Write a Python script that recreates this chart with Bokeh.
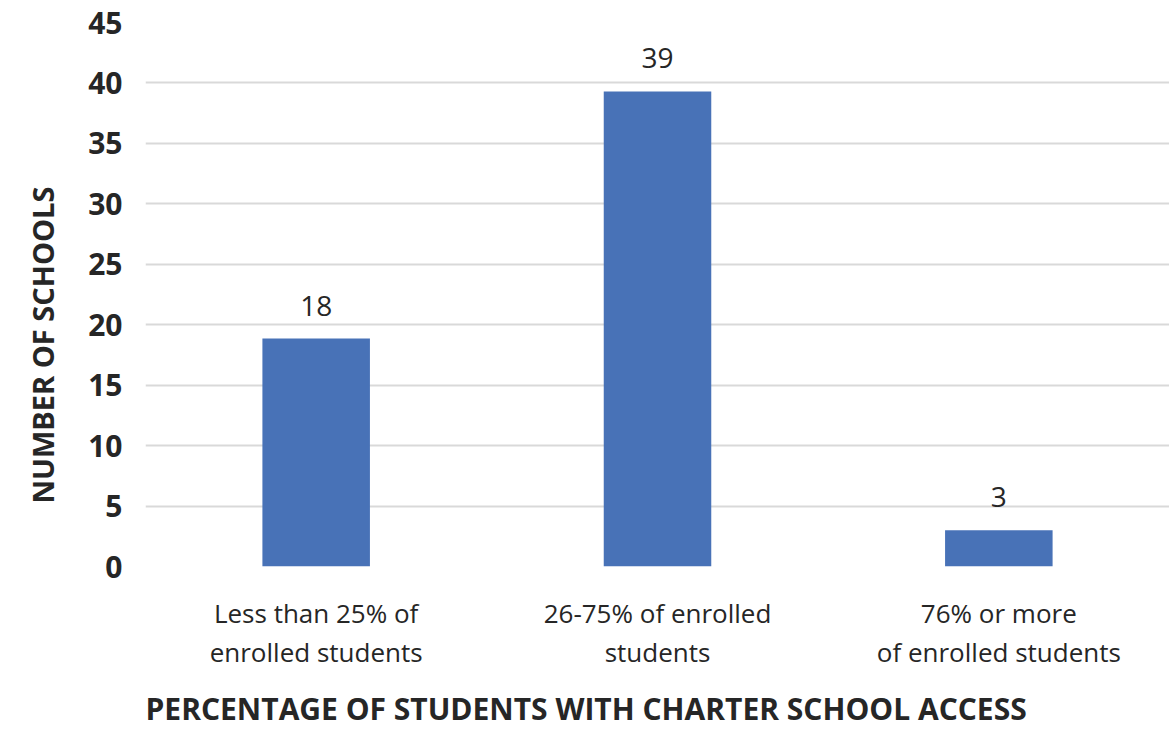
from bokeh.plotting import figure
from bokeh.models import ColumnDataSource, FactorRange, Title
from bokeh.core.properties import value
from bokeh.embed import file_html
from bokeh.resources import INLINE

categories = ["Less than 25% of\nenrolled students",
              "26-75% of enrolled\nstudents",
              "76% or more\nof enrolled students"]
bar_values = [18.85, 39.3, 3.0]
bar_labels = ["18", "39", "3"]
y_ticks = [0, 5, 10, 15, 20, 25, 30, 35, 40, 45]

FONT = "Open Sans"
TXT = "#262626"

src = ColumnDataSource(dict(cat=categories, val=bar_values, lab=bar_labels))

p = figure(width=1169, height=742, output_backend="svg", toolbar_location=None,
           x_range=FactorRange(*categories, range_padding=0.0),
           y_range=(0, 45),
           min_border_left=145, min_border_right=0, min_border_top=22, min_border_bottom=176)
p.outline_line_color = None
p.background_fill_color = "white"
p.border_fill_color = "white"

p.vbar(x="cat", top="val", width=0.315, source=src, color="#4872B7", line_color=None)

p.text(x="cat", y="val", text="lab", source=src, y_offset=-23,
       text_align="center", text_baseline="bottom",
       text_font=value(FONT), text_font_size="28px", text_color=TXT)

p.xgrid.grid_line_color = None
p.ygrid.grid_line_color = "#d9d9d9"
p.ygrid.grid_line_width = 2
p.yaxis.ticker = y_ticks
p.yaxis.axis_line_color = None
p.yaxis.major_tick_line_color = None
p.yaxis.minor_tick_line_color = None
p.yaxis.major_label_text_font = FONT
p.yaxis.major_label_text_font_style = "bold"
p.yaxis.major_label_text_font_size = "30px"
p.yaxis.major_label_text_color = TXT
p.yaxis.major_label_standoff = 17

p.xaxis.axis_line_color = None
p.xaxis.major_tick_line_color = None
p.xaxis.minor_tick_line_color = None
p.xaxis.major_label_text_font = FONT
p.xaxis.major_label_text_font_size = "26px"
p.xaxis.major_label_text_color = TXT
p.xaxis.major_label_text_line_height = 1.09
p.xaxis.major_label_standoff = 22

ytitle = Title(text="NUMBER OF SCHOOLS", align="left", offset=63, standoff=44,
               vertical_align="top",
               text_font=FONT, text_font_style="bold", text_font_size="29px",
               text_color=TXT)
p.add_layout(ytitle, "left")

xtitle = Title(text="PERCENTAGE OF STUDENTS WITH CHARTER SCHOOL ACCESS",
               align="left", offset=0, standoff=27,
               text_font=FONT, text_font_style="bold", text_font_size="30px",
               text_color=TXT)
p.add_layout(xtitle, "below")

open("out.html", "w").write(file_html(p, INLINE))
